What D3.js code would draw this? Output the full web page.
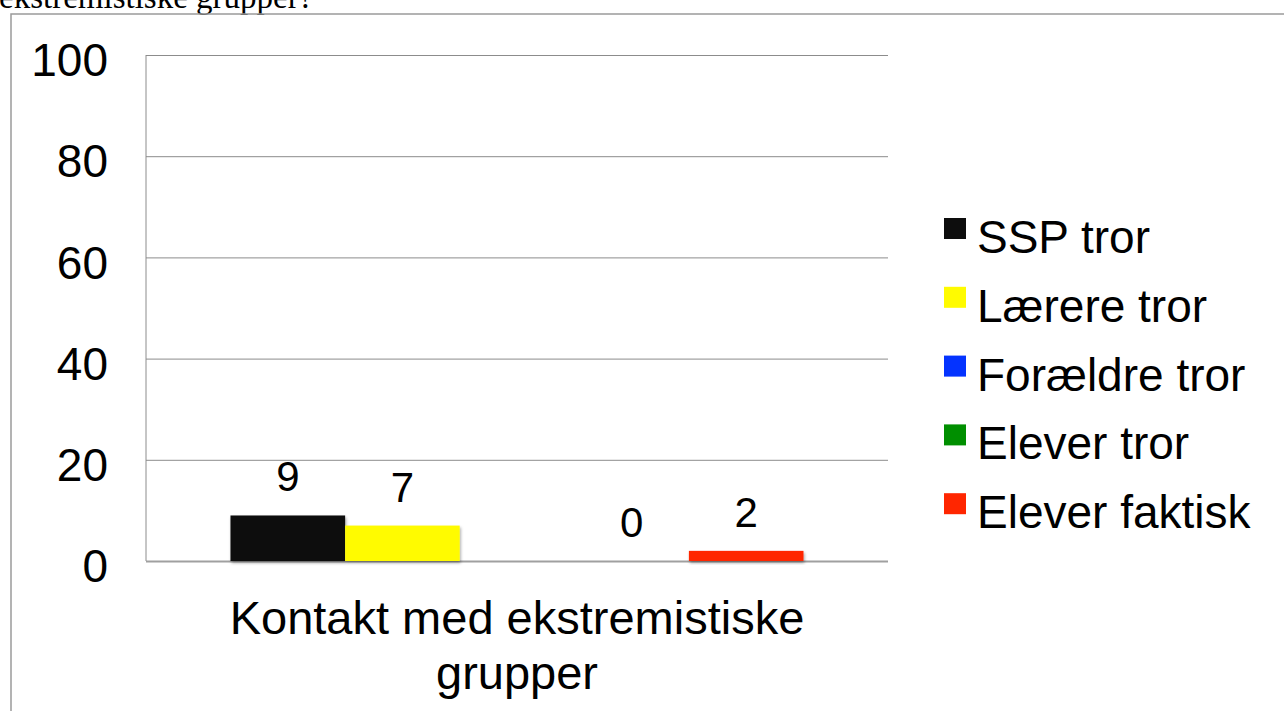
<!DOCTYPE html>
<html><head><meta charset="utf-8">
<script src="https://cdn.jsdelivr.net/npm/d3@7"></script>
<style>body{margin:0;background:#fff;overflow:hidden}svg{display:block}</style>
</head><body>
<svg id="c" width="1284" height="711"></svg>
<script>
const categories = ["Kontakt med ekstremistiske grupper"];
const seriesNames = ["SSP tror", "Lærere tror", "Forældre tror", "Elever tror", "Elever faktisk"];
const seriesColors = ["#0d0d0d", "#fffb00", "#0433ff", "#008f00", "#ff2600"];
const ssp = [9];
const laerere = [7];
const foraeldre = [null];
const eleverTror = [0];
const eleverFaktisk = [2];
const yTicks = [0, 20, 40, 60, 80, 100];
const titleText = "ekstremistiske grupper?";

const seriesValues = [ssp, laerere, foraeldre, eleverTror, eleverFaktisk];
const svg = d3.select("#c");
const font = "Helvetica, Arial, 'Liberation Sans', sans-serif";

const defs = svg.append("defs");
const f = defs.append("filter").attr("id","sh").attr("x","-10%").attr("y","-10%").attr("width","130%").attr("height","140%");
f.append("feDropShadow").attr("dx",1).attr("dy",2).attr("stdDeviation",1.5).attr("flood-color","#000").attr("flood-opacity",0.35);

// title text (clipped at top, as in the source)
svg.append("text").attr("x",-1).attr("y",8).attr("font-family","'Liberation Serif','Times New Roman',serif")
  .attr("font-size",33).attr("fill","#000").text(titleText);

// outer frame
svg.append("rect").attr("x",11).attr("y",14).attr("width",1300).attr("height",800)
  .attr("fill","none").attr("stroke","#9a9a9a").attr("stroke-width",1.5);

const plot = {left:146, right:888, top:55, bottom:561};
const y = d3.scaleLinear().domain([0,100]).range([plot.bottom, plot.top]);
const x0 = d3.scaleBand().domain(categories).range([plot.left, plot.right]).paddingInner(0).paddingOuter(0.1475);
const x1 = d3.scaleBand().domain(seriesNames).range([0, x0.bandwidth()]).padding(0);

// gridlines
const yAxis = d3.axisLeft(y).tickValues(yTicks).tickSize(-(plot.right-plot.left)).tickFormat(d=>d);
const gy = svg.append("g").attr("transform",`translate(${plot.left},0)`).call(yAxis);
gy.select(".domain").remove();
gy.selectAll(".tick line").attr("stroke", d => d===0 ? "#a0a0a0" : "#8c8c8c").attr("stroke-width", d=> d===0?2:1);
gy.selectAll(".tick text").attr("x",-38).attr("dy","0.45em").attr("font-family",font).attr("font-size",46).attr("fill","#000").attr("text-anchor","end");
svg.append("line").attr("x1",plot.left).attr("x2",plot.left).attr("y1",plot.top).attr("y2",plot.bottom).attr("stroke","#8c8c8c").attr("stroke-width",1);

// bars
const data = [];
categories.forEach((c,ci)=>seriesNames.forEach((s,si)=>data.push({c,s,si,v:seriesValues[si][ci]})));
const g = svg.append("g");
g.selectAll("rect").data(data.filter(d=>d.v!==null && d.v>0)).join("rect")
  .attr("x",d=>x0(d.c)+x1(d.s)).attr("width",x1.bandwidth())
  .attr("y",d=>y(d.v)).attr("height",d=>y(0)-y(d.v))
  .attr("fill",d=>seriesColors[d.si]).attr("filter","url(#sh)");
g.selectAll("text").data(data.filter(d=>d.v!==null)).join("text")
  .attr("x",d=>x0(d.c)+x1(d.s)+x1.bandwidth()/2).attr("y",d=>y(d.v)-24)
  .attr("text-anchor","middle").attr("font-family",font).attr("font-size",42).attr("fill","#000")
  .text(d=>d.v);

// category label
const cl = svg.append("text").attr("text-anchor","middle").attr("font-family",font).attr("font-size",47).attr("fill","#000");
cl.append("tspan").attr("x",x0(categories[0])+x0.bandwidth()/2).attr("y",634).text("Kontakt med ekstremistiske");
cl.append("tspan").attr("x",x0(categories[0])+x0.bandwidth()/2).attr("y",689).text("grupper");

// legend
const lg = svg.append("g").attr("transform","translate(944,218)");
seriesNames.forEach((s,i)=>{
  const row = lg.append("g").attr("transform",`translate(0,${i*68.8})`);
  row.append("rect").attr("width",22).attr("height",21).attr("fill",seriesColors[i]);
  row.append("text").attr("x",33).attr("y",35).attr("font-family",font).attr("font-size",46).attr("fill","#000").text(s);
});
</script>
</body></html>
